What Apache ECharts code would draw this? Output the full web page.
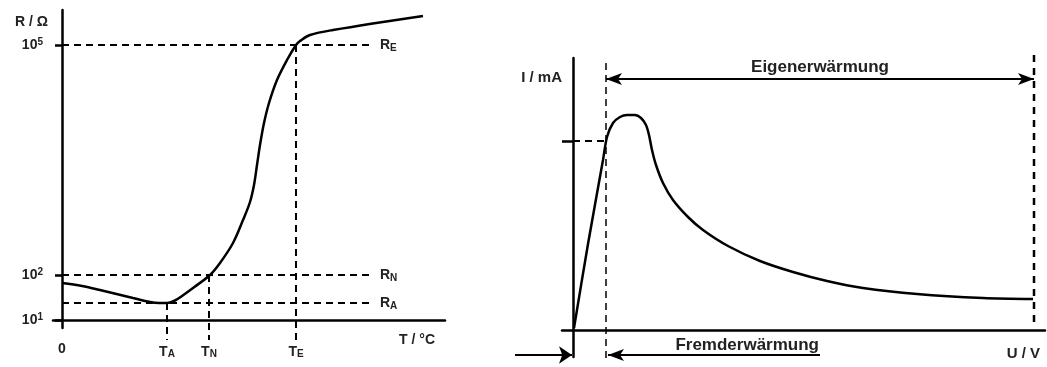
<!DOCTYPE html>
<html>
<head>
<meta charset="utf-8">
<script src="https://cdn.jsdelivr.net/npm/echarts@6/dist/echarts.min.js"></script>
<style>
  html, body { margin: 0; padding: 0; background: #fff; }
  #chart { width: 1047px; height: 367px; }
</style>
</head>
<body>
<div id="chart"></div>
<script>
// linke Kurve: R(T) eines PTC (schematisch, Achsen ohne Maßstab)
var tempT = [0, 20, 38, 71, 88, 97, 105, 112, 120, 131, 148, 158, 171, 181, 188, 192, 195, 198, 202, 207, 215, 225, 234, 238, 248, 271, 361];
var resR  = [37, 34, 30, 22, 18, 17, 17, 19, 24, 32, 45, 57, 77, 100, 118, 135, 155, 175, 197, 217, 240, 260, 275, 279, 285, 290, 304];
var markNames = ['A', 'N', 'E'];
var markT = [105, 147, 234];
var markR = [17, 45, 275];
var rTickVals = [0, 45, 275];
var rTickLabels = ['10{sup|1}', '10{sup|2}', '10{sup|5}'];

// rechte Kurve: I(U)
var voltU = [1, 15, 30, 34, 40, 47, 54, 62, 68, 73, 76, 79, 83, 90, 100, 115, 130, 155, 187, 220, 254, 290, 344, 410, 460];
var currI = [2, 86, 170, 193, 207, 213, 215, 215, 212, 205, 195, 180, 165, 147, 130, 113, 100, 84, 69, 58, 49, 42, 36, 32, 31];
var iMark = 189;
var uStart = 33;
var uEnd = 461;

var dash = [7, 5];
var txt = '#222';
var font = 'Liberation Sans';

function lab(base, sub) {
    return base + '{s|' + sub + '}';
}
var richSub = {
    s: { fontSize: 10, fontWeight: 'bold', fontFamily: font, color: txt, verticalAlign: 'bottom', padding: [6, 0, 0, 0] }
};
var richSup = {
    sup: { fontSize: 10, fontWeight: 'bold', fontFamily: font, color: txt, verticalAlign: 'top', padding: [0, 0, 6, 0] }
};
var richT = {
    t: { fontSize: 14, fontWeight: 'bold', fontFamily: font, color: txt, verticalAlign: 'bottom', padding: [3, 0, 0, 0] },
    s: { fontSize: 10, fontWeight: 'bold', fontFamily: font, color: txt, verticalAlign: 'bottom' }
};

var curveL = tempT.map(function (t, i) { return [t, resR[i]]; });
var curveR = voltU.map(function (u, i) { return [u, currI[i]]; });

var series = [];
series.push({
    type: 'line', xAxisIndex: 0, yAxisIndex: 0, data: curveL, smooth: 0.35,
    symbol: 'none', lineStyle: { color: '#000', width: 2.5 }, z: 5
});
markNames.forEach(function (n, i) {
    series.push({
        type: 'line', xAxisIndex: 0, yAxisIndex: 0, symbol: 'none', clip: false,
        data: [[0, markR[i]], [310, markR[i]]],
        lineStyle: { color: '#000', width: 2, type: dash },
        endLabel: {
            show: true, formatter: lab('R', n), distance: 8,
            fontSize: 14, fontWeight: 'bold', fontFamily: font, color: txt, rich: richSub
        }
    });
    series.push({
        type: 'line', xAxisIndex: 0, yAxisIndex: 0, symbol: 'none', clip: false,
        data: [[markT[i], markR[i]], [markT[i], -20]],
        lineStyle: { color: '#000', width: 2, type: dash }
    });
});

series.push({
    type: 'line', xAxisIndex: 1, yAxisIndex: 1, data: curveR, smooth: 0.3,
    symbol: 'none', lineStyle: { color: '#000', width: 2.5 }, z: 5, clip: false,
    markLine: {
        silent: true,
        symbolSize: [9, 16],
        lineStyle: { color: '#000', width: 2, type: 'solid' },
        label: { fontSize: 17, fontWeight: 'bold', fontFamily: font, color: txt },
        data: [
            [{ coord: [uStart, 251], symbol: 'arrow', label: { show: true, position: 'insideMiddleTop', formatter: 'Eigenerwärmung', distance: 3 } },
             { coord: [uEnd, 251], symbol: 'arrow' }],
            [{ coord: [uStart + 2, -25], symbol: 'arrow', label: { show: true, position: 'insideEndTop', formatter: 'Fremderwärmung', distance: 1 } },
             { coord: [247, -25], symbol: 'none' }]
        ]
    }
});
// Pfeil links unten, außerhalb des Achsbereichs
series.push({
    type: 'lines', coordinateSystem: 'cartesian2d', xAxisIndex: 1, yAxisIndex: 1, clip: false,
    symbol: ['none', 'arrow'], symbolSize: 13,
    lineStyle: { color: '#000', width: 2, opacity: 1 },
    data: [{ coords: [[-58, -25], [-1, -25]] }]
});
series.push({
    type: 'line', xAxisIndex: 1, yAxisIndex: 1, symbol: 'none', clip: false,
    data: [[0, iMark], [uStart, iMark]],
    lineStyle: { color: '#000', width: 2, type: dash }
});
series.push({
    type: 'line', xAxisIndex: 1, yAxisIndex: 1, symbol: 'none', clip: false,
    data: [[uStart, -28], [uStart, 272]],
    lineStyle: { color: '#000', width: 1.5, type: [7, 5] }
});
series.push({
    type: 'line', xAxisIndex: 1, yAxisIndex: 1, symbol: 'none', clip: false,
    data: [[uEnd, 8], [uEnd, 275]],
    lineStyle: { color: '#000', width: 2.5, type: [7, 6] }
});

var axisLineStyle = { show: true, onZero: true, lineStyle: { color: '#000', width: 2.5 } };
var nameStyle = { fontSize: 14, fontWeight: 'bold', fontFamily: font, color: txt };

var option = {
    animation: false,
    backgroundColor: '#fff',
    grid: [
        { left: 53, top: 10, width: 392, height: 318 },
        { left: 562, top: 58, width: 483, height: 299 }
    ],
    xAxis: [
        {
            type: 'value', gridIndex: 0, min: -9, max: 383,
            axisLine: axisLineStyle, splitLine: { show: false }, axisTick: { show: false },
            axisLabel: {
                customValues: [0].concat(markT), margin: 14,
                fontSize: 14, fontWeight: 'bold', fontFamily: font, color: txt,
                formatter: function (v) {
                    var k = markT.indexOf(v);
                    return k < 0 ? '0' : '{t|T}{s|' + markNames[k] + '}';
                },
                rich: richT
            },
            name: 'T / °C', nameLocation: 'end', nameGap: -10,
            nameTextStyle: Object.assign({ align: 'right', verticalAlign: 'top', padding: [13, 0, 0, 0] }, nameStyle)
        },
        {
            type: 'value', gridIndex: 1, min: -11, max: 472,
            axisLine: axisLineStyle, splitLine: { show: false }, axisTick: { show: false },
            axisLabel: { show: false },
            name: 'U / V', nameLocation: 'end', nameGap: -5,
            nameTextStyle: Object.assign({ align: 'right', verticalAlign: 'top', padding: [16, 0, 0, 0] }, nameStyle, { fontSize: 15 })
        }
    ],
    yAxis: [
        {
            type: 'value', gridIndex: 0, min: -8, max: 310,
            axisLine: axisLineStyle, splitLine: { show: false },
            axisTick: { show: true, customValues: rTickVals, length: 7, lineStyle: { color: '#000', width: 2.5 } },
            axisLabel: {
                customValues: rTickVals, margin: 10,
                fontSize: 14, fontWeight: 'bold', fontFamily: font, color: txt,
                formatter: function (v) { return rTickLabels[rTickVals.indexOf(v)]; },
                rich: richSup
            },
            name: 'R / Ω', nameLocation: 'end', nameGap: -12,
            nameTextStyle: Object.assign({ align: 'right', verticalAlign: 'middle', padding: [0, 14, 0, 0] }, nameStyle)
        },
        {
            type: 'value', gridIndex: 1, min: -27, max: 272,
            axisLine: axisLineStyle, splitLine: { show: false },
            axisTick: { show: true, customValues: [iMark], length: 11, lineStyle: { color: '#000', width: 2.5 } },
            axisLabel: { show: false },
            name: 'I / mA', nameLocation: 'end', nameGap: -20,
            nameTextStyle: Object.assign({ align: 'right', verticalAlign: 'middle', padding: [0, 11, 0, 0] }, nameStyle, { fontSize: 15 })
        }
    ],
    series: series
};

var chart = echarts.init(document.getElementById('chart'));
chart.setOption(option);
</script>
</body>
</html>
